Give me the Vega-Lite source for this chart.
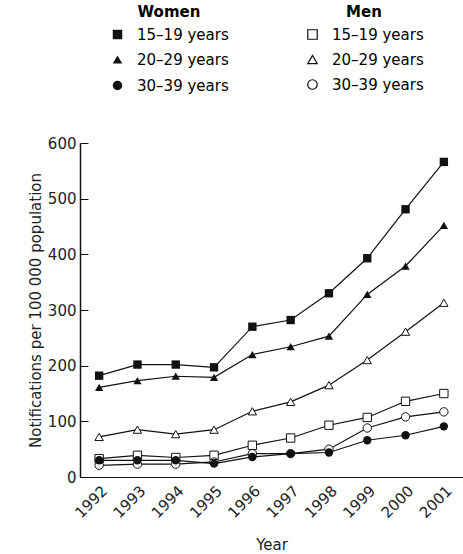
{
  "$schema": "https://vega.github.io/schema/vega-lite/v6.json",
  "width": 383,
  "height": 334,
  "autosize": "none",
  "padding": {"left": 80, "top": 143, "right": 0, "bottom": 77},
  "config": {
    "font": "DejaVu Sans",
    "view": {"stroke": null},
    "axis": {"labelFont": "DejaVu Sans", "titleFont": "DejaVu Sans", "labelFontSize": 15, "titleFontSize": 15, "titleFontWeight": "normal", "labelColor": "#222", "titleColor": "#222", "domainColor": "#111", "tickColor": "#111", "grid": false}
  },
  "data": {
    "values": [
      {"year": "1992", "sex": "Women", "series": "15–19 years", "rate": 182},
      {"year": "1993", "sex": "Women", "series": "15–19 years", "rate": 202},
      {"year": "1994", "sex": "Women", "series": "15–19 years", "rate": 202},
      {"year": "1995", "sex": "Women", "series": "15–19 years", "rate": 197},
      {"year": "1996", "sex": "Women", "series": "15–19 years", "rate": 270},
      {"year": "1997", "sex": "Women", "series": "15–19 years", "rate": 282},
      {"year": "1998", "sex": "Women", "series": "15–19 years", "rate": 330},
      {"year": "1999", "sex": "Women", "series": "15–19 years", "rate": 393},
      {"year": "2000", "sex": "Women", "series": "15–19 years", "rate": 481},
      {"year": "2001", "sex": "Women", "series": "15–19 years", "rate": 566},
      {"year": "1992", "sex": "Women", "series": "20–29 years", "rate": 161},
      {"year": "1993", "sex": "Women", "series": "20–29 years", "rate": 173},
      {"year": "1994", "sex": "Women", "series": "20–29 years", "rate": 181},
      {"year": "1995", "sex": "Women", "series": "20–29 years", "rate": 179},
      {"year": "1996", "sex": "Women", "series": "20–29 years", "rate": 220},
      {"year": "1997", "sex": "Women", "series": "20–29 years", "rate": 234},
      {"year": "1998", "sex": "Women", "series": "20–29 years", "rate": 253},
      {"year": "1999", "sex": "Women", "series": "20–29 years", "rate": 328},
      {"year": "2000", "sex": "Women", "series": "20–29 years", "rate": 379},
      {"year": "2001", "sex": "Women", "series": "20–29 years", "rate": 452},
      {"year": "1992", "sex": "Women", "series": "30–39 years", "rate": 30},
      {"year": "1993", "sex": "Women", "series": "30–39 years", "rate": 30},
      {"year": "1994", "sex": "Women", "series": "30–39 years", "rate": 30},
      {"year": "1995", "sex": "Women", "series": "30–39 years", "rate": 24},
      {"year": "1996", "sex": "Women", "series": "30–39 years", "rate": 36},
      {"year": "1997", "sex": "Women", "series": "30–39 years", "rate": 42},
      {"year": "1998", "sex": "Women", "series": "30–39 years", "rate": 44},
      {"year": "1999", "sex": "Women", "series": "30–39 years", "rate": 66},
      {"year": "2000", "sex": "Women", "series": "30–39 years", "rate": 75},
      {"year": "2001", "sex": "Women", "series": "30–39 years", "rate": 91},
      {"year": "1992", "sex": "Men", "series": "15–19 years", "rate": 33},
      {"year": "1993", "sex": "Men", "series": "15–19 years", "rate": 39},
      {"year": "1994", "sex": "Men", "series": "15–19 years", "rate": 35},
      {"year": "1995", "sex": "Men", "series": "15–19 years", "rate": 39},
      {"year": "1996", "sex": "Men", "series": "15–19 years", "rate": 57},
      {"year": "1997", "sex": "Men", "series": "15–19 years", "rate": 70},
      {"year": "1998", "sex": "Men", "series": "15–19 years", "rate": 93},
      {"year": "1999", "sex": "Men", "series": "15–19 years", "rate": 107},
      {"year": "2000", "sex": "Men", "series": "15–19 years", "rate": 136},
      {"year": "2001", "sex": "Men", "series": "15–19 years", "rate": 150},
      {"year": "1992", "sex": "Men", "series": "20–29 years", "rate": 72},
      {"year": "1993", "sex": "Men", "series": "20–29 years", "rate": 85},
      {"year": "1994", "sex": "Men", "series": "20–29 years", "rate": 77},
      {"year": "1995", "sex": "Men", "series": "20–29 years", "rate": 85},
      {"year": "1996", "sex": "Men", "series": "20–29 years", "rate": 118},
      {"year": "1997", "sex": "Men", "series": "20–29 years", "rate": 135},
      {"year": "1998", "sex": "Men", "series": "20–29 years", "rate": 165},
      {"year": "1999", "sex": "Men", "series": "20–29 years", "rate": 210},
      {"year": "2000", "sex": "Men", "series": "20–29 years", "rate": 261},
      {"year": "2001", "sex": "Men", "series": "20–29 years", "rate": 313},
      {"year": "1992", "sex": "Men", "series": "30–39 years", "rate": 21},
      {"year": "1993", "sex": "Men", "series": "30–39 years", "rate": 23},
      {"year": "1994", "sex": "Men", "series": "30–39 years", "rate": 23},
      {"year": "1995", "sex": "Men", "series": "30–39 years", "rate": 27},
      {"year": "1996", "sex": "Men", "series": "30–39 years", "rate": 42},
      {"year": "1997", "sex": "Men", "series": "30–39 years", "rate": 42},
      {"year": "1998", "sex": "Men", "series": "30–39 years", "rate": 50},
      {"year": "1999", "sex": "Men", "series": "30–39 years", "rate": 88},
      {"year": "2000", "sex": "Men", "series": "30–39 years", "rate": 108},
      {"year": "2001", "sex": "Men", "series": "30–39 years", "rate": 117}
    ]
  },
  "encoding": {
    "x": {
      "field": "year", "type": "ordinal", "title": "Year",
      "scale": {"type": "point", "padding": 0.5},
      "axis": {"labelAngle": -45, "ticks": false, "labelPadding": 6, "titleY": 60}
    },
    "y": {
      "field": "rate", "type": "quantitative",
      "title": "Notifications per 100 000 population",
      "scale": {"domain": [0, 600]},
      "axis": {"values": [0, 100, 200, 300, 400, 500, 600], "tickSize": -8, "labelPadding": 12, "domainWidth": 1.5}
    }
  },
  "layer": [
    {
      "transform": [{"filter": "datum.sex == 'Men'"}],
      "mark": {"type": "line", "color": "#111", "strokeWidth": 1.2},
      "encoding": {"detail": {"field": "series"}}
    },
    {
      "transform": [{"filter": "datum.sex == 'Men' && datum.series == '15–19 years'"}],
      "mark": {"type": "point", "filled": true, "color": "white", "size": 70, "opacity": 1, "shape": "square"}
    },
    {
      "transform": [{"filter": "datum.sex == 'Men' && datum.series == '20–29 years'"}],
      "mark": {"type": "point", "filled": true, "color": "white", "size": 70, "opacity": 1, "shape": "triangle-up"}
    },
    {
      "transform": [{"filter": "datum.sex == 'Men' && datum.series == '30–39 years'"}],
      "mark": {"type": "point", "filled": true, "color": "white", "size": 70, "opacity": 1, "shape": "circle"}
    },
    {
      "transform": [{"filter": "datum.sex == 'Men'"}],
      "mark": {"type": "point", "filled": false, "color": "#111", "strokeWidth": 1, "size": 70, "opacity": 1},
      "encoding": {
        "shape": {
          "field": "series", "type": "nominal",
          "scale": {"domain": ["15–19 years", "20–29 years", "30–39 years"], "range": ["square", "triangle-up", "circle"]},
          "legend": {"title": "Men", "orient": "none", "legendX": 225, "legendY": -138, "titleFontSize": 15, "titleFontWeight": "bold", "titleAnchor": "middle", "labelFontSize": 15, "labelOffset": 12, "symbolSize": 90, "symbolStrokeWidth": 1.2, "symbolStrokeColor": "#111", "rowPadding": 9, "titlePadding": 7}
        }
      }
    },
    {
      "transform": [{"filter": "datum.sex == 'Women'"}],
      "mark": {"type": "line", "color": "#111", "strokeWidth": 1.2},
      "encoding": {"detail": {"field": "series"}}
    },
    {
      "transform": [{"filter": "datum.sex == 'Women'"}],
      "mark": {"type": "point", "filled": true, "color": "#111", "size": 70, "opacity": 1},
      "encoding": {
        "shape": {
          "field": "series", "type": "nominal",
          "scale": {"domain": ["15–19 years", "20–29 years", "30–39 years"], "range": ["square", "triangle-up", "circle"]},
          "legend": {"title": "Women", "orient": "none", "legendX": 30, "legendY": -138, "titleFontSize": 15, "titleFontWeight": "bold", "titleAnchor": "middle", "labelFontSize": 15, "labelOffset": 12, "symbolSize": 90, "symbolFillColor": "#111", "symbolStrokeColor": "#111", "rowPadding": 9, "titlePadding": 7}
        }
      }
    }
  ],
  "resolve": {"scale": {"shape": "independent"}}
}
